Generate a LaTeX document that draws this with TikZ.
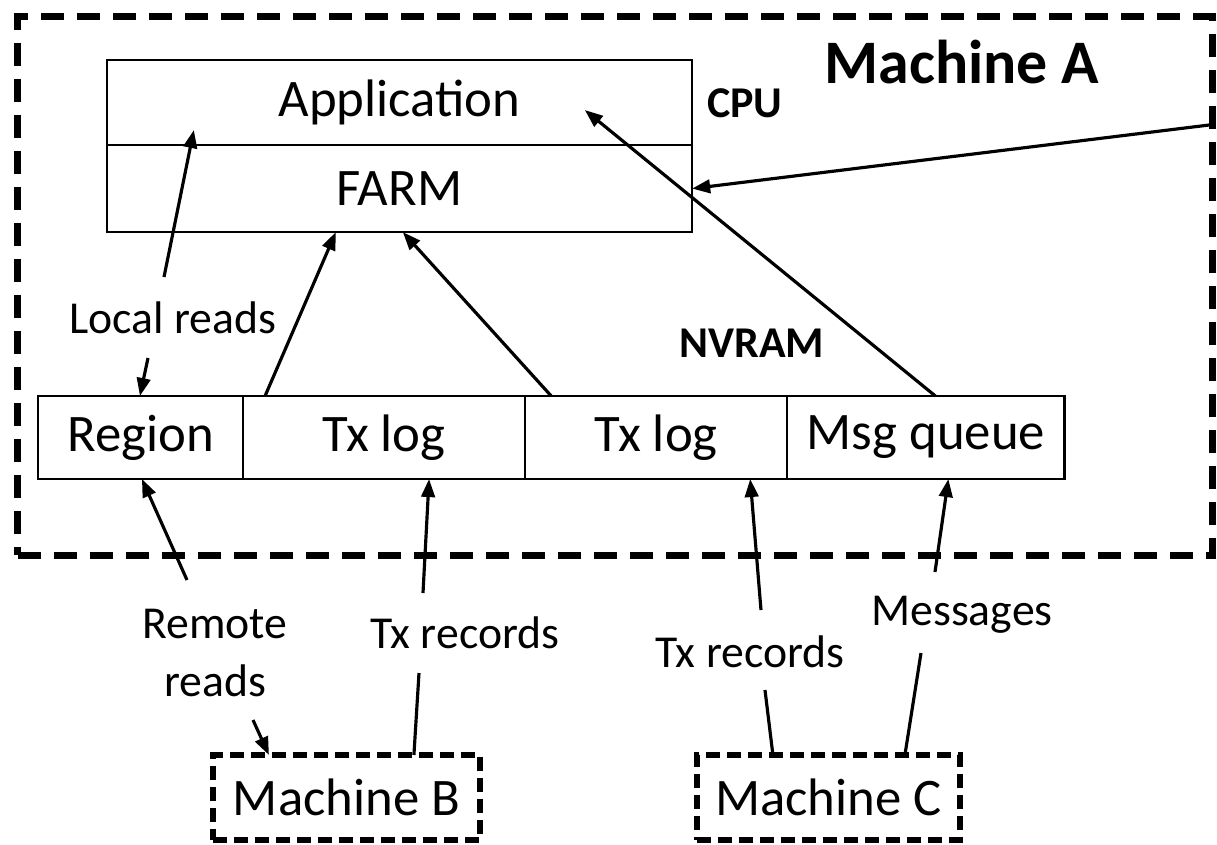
\documentclass[tikz,border=0pt]{standalone}
\usepackage{fontspec}
\setmainfont{Carlito}
\usetikzlibrary{positioning,arrows.meta,calc}

\begin{document}
\begin{tikzpicture}[x=0.01cm,y=-0.01cm,
 cell/.style={draw,line width=0.6pt,inner sep=0pt,outer sep=0pt,font=\fontsize{15}{18}\selectfont},
 arr/.style={-{Triangle[length=1.8mm,width=1.35mm]},line width=0.9pt},
 wire/.style={line width=0.9pt},
 lab/.style={font=\fontsize{13}{16.5}\selectfont,align=center,inner sep=1pt},
 hdr/.style={font=\fontsize{12.5}{15}\selectfont\bfseries},
 mach/.style={draw,line width=1.7pt,dash pattern=on 1.4mm off 0.7mm,outer sep=0pt,
   minimum width=#1,minimum height=0.85cm,font=\fontsize{15}{18}\selectfont}]
\useasboundingbox (0,0) rectangle (1217,844);
% Machine A frame
\node[draw,line width=2pt,dash pattern=on 2.3mm off 1.3mm,outer sep=0pt,
  minimum width=11.94cm,minimum height=5.38cm] (macha) at (615,286) {};
\node[font=\fontsize{17.6}{20}\selectfont\bfseries] (machalab) at (962,62) {Machine A};
% CPU side
\node[cell,minimum width=5.85cm,minimum height=0.85cm] (app) at (399.5,102.5) {Application};
\node[cell,minimum width=5.85cm,minimum height=0.87cm,below=0pt of app] (farm) {FARM};
\node[hdr] (cpu) at (745,103) {CPU};
% NVRAM row
\node[hdr] (nvram) at (752,343) {NVRAM};
\node[cell,minimum width=2.05cm,minimum height=0.83cm] (region) at (140.5,437.5) {Region};
\node[cell,minimum width=2.82cm,minimum height=0.83cm,right=0pt of region] (txa) {Tx log};
\node[cell,minimum width=2.62cm,minimum height=0.83cm,right=0pt of txa] (txb) {Tx log};
\node[cell,minimum width=2.77cm,minimum height=0.83cm,right=0pt of txb] (msgq) {Msg queue};
% remote machines
\node[mach=2.67cm] (machb) at (346.5,797.5) {Machine B};
\node[mach=2.63cm] (machc) at (828.5,797.5) {Machine C};
% labels
\node[lab] (local) at (173,318) {Local reads};
\node[lab] (remote) at (215,653) {Remote\\reads};
\node[lab] (recb) at (465,633) {Tx records};
\node[lab] (recc) at (750,652) {Tx records};
\node[lab] (msgs) at (962,615) {Messages};
% free ends
\coordinate (lrup) at (164,277);
\coordinate (lrdn) at (148,358);
\coordinate (rrup) at (187,580);
\coordinate (rrdn) at (253,720);
\coordinate (rbup) at (423,593);
\coordinate (rbdn) at (419,673);
\coordinate (rcup) at (761,610);
\coordinate (rcdn) at (765,690);
\coordinate (msup) at (935,572);
\coordinate (msdn) at (921,653);
% inside Machine A
\draw[arr] (lrup) -- ($(app.south west)+(87,-15)$);
\draw[arr] (lrdn) -- ($(region.north west)+(102,0)$);
\draw[arr] ($(txa.north west)+(22,0)$) -- ($(farm.south west)+(229,0)$);
\draw[arr] ($(txb.north west)+(26,0)$) -- ($(farm.south west)+(296,0)$);
\draw[arr] ($(msgq.north west)+(148,0)$) -- ($(app.south west)+(478,-35)$);
\draw[arr] ($(macha.north east)+(-2,108)$) -- (farm.east);
% from the other machines
\draw[arr] (rrup) -- ($(region.south west)+(104,0)$);
\draw[arr] (rrdn) -- ($(machb.north west)+(56,0)$);
\draw[arr] (rbup) -- ($(txa.south west)+(186,0)$);
\draw[wire] (rbdn) -- ($(machb.north west)+(201,0)$);
\draw[arr] (rcup) -- ($(txb.south west)+(225,0)$);
\draw[wire] (rcdn) -- ($(machc.north west)+(76,0)$);
\draw[arr] (msup) -- ($(msgq.south west)+(161,0)$);
\draw[wire] (msdn) -- ($(machc.north west)+(208,0)$);
\end{tikzpicture}
\end{document}
